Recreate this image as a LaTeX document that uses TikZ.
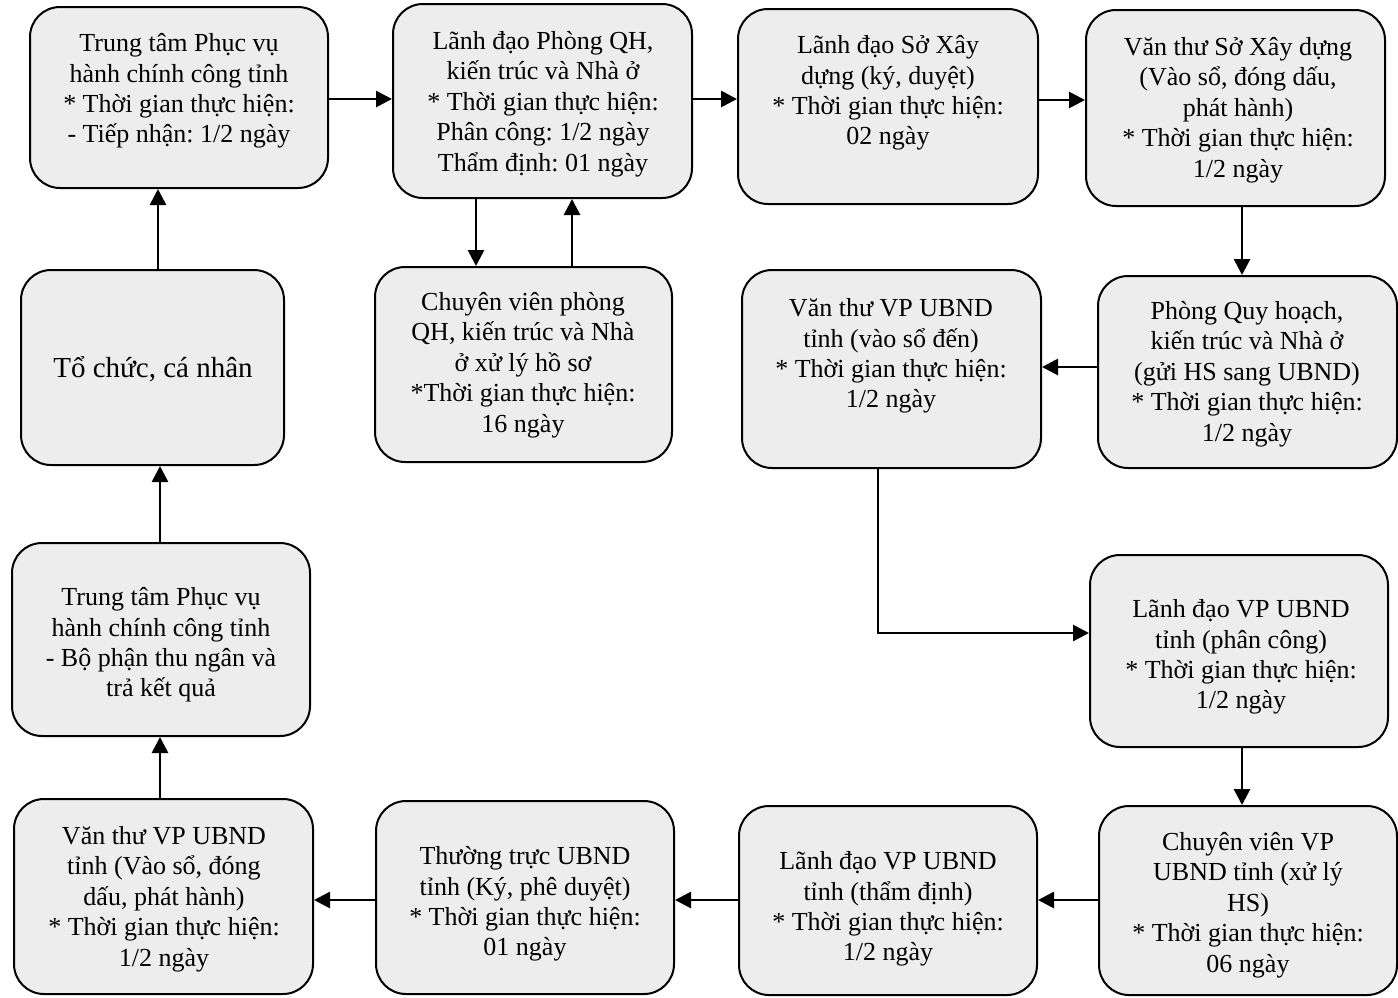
\documentclass[tikz,border=0pt]{standalone}
\usepackage{fontspec}
\setmainfont{Liberation Serif}
\usetikzlibrary{arrows.meta,fit}
\begin{document}
\frenchspacing
\begin{tikzpicture}[x=0.5pt,y=-0.5pt,
  box/.style={draw=black,line width=1pt,fill=boxgrey,rounded corners=15pt,inner sep=0pt},
  txt/.style={align=center,font=\fontsize{13}{15.2}\selectfont,inner sep=0pt,yshift=-1.5pt},
  arr/.style={line width=1.4pt,-{Triangle[length=8pt,width=8pt]}}]
\definecolor{boxgrey}{HTML}{EDEDED}
\useasboundingbox (0,0) rectangle (1398,997);
% boxes
\node[box,fit={(30,7) (328,188)}] (A) {};
\node[box,fit={(393,4) (692,198)}] (B) {};
\node[box,fit={(738,9) (1038,204)}] (C) {};
\node[box,fit={(1086,10) (1385,206)}] (D) {};
\node[box,fit={(375,267) (672,462)}] (E) {};
\node[box,fit={(21,270) (284,465)}] (F) {};
\node[box,fit={(742,270) (1041,468)}] (G) {};
\node[box,fit={(1098,276) (1397,468)}] (H) {};
\node[box,fit={(12,543) (310,736)}] (I) {};
\node[box,fit={(1090,555) (1388,747)}] (J) {};
\node[box,fit={(14,799) (313,994)}] (K) {};
\node[box,fit={(376,801) (674,994)}] (L) {};
\node[box,fit={(739,806) (1037,995)}] (M) {};
\node[box,fit={(1099,806) (1397,995)}] (N) {};
% texts
\node[txt] (tA) at (179,88) {Trung tâm Phục vụ\\hành chính công tỉnh\\* Thời gian thực hiện:\\- Tiếp nhận: 1/2 ngày};
\node[txt] (tB) at (543,101) {Lãnh đạo Phòng QH,\\kiến trúc và Nhà ở\\* Thời gian thực hiện:\\Phân công: 1/2 ngày\\Thẩm định: 01 ngày};
\node[txt] (tC) at (888,90) {Lãnh đạo Sở Xây\\dựng (ký, duyệt)\\* Thời gian thực hiện:\\02 ngày};
\node[txt] (tD) at (1238,107) {Văn thư Sở Xây dựng\\(Vào sổ, đóng dấu,\\phát hành)\\* Thời gian thực hiện:\\1/2 ngày};
\node[txt] (tE) at (523,362) {Chuyên viên phòng\\QH, kiến trúc và Nhà\\ở xử lý hồ sơ\\*Thời gian thực hiện:\\16 ngày};
\node[txt,font=\fontsize{14.5}{16}\selectfont] (tF) at (153,366) {Tổ chức, cá nhân};
\node[txt] (tG) at (891,353) {Văn thư VP UBND\\tỉnh (vào sổ đến)\\* Thời gian thực hiện:\\1/2 ngày};
\node[txt] (tH) at (1247,371) {Phòng Quy hoạch,\\kiến trúc và Nhà ở\\(gửi HS sang UBND)\\* Thời gian thực hiện:\\1/2 ngày};
\node[txt] (tI) at (161,642) {Trung tâm Phục vụ\\hành chính công tỉnh\\- Bộ phận thu ngân và\\trả kết quả};
\node[txt] (tJ) at (1241,654) {Lãnh đạo VP UBND\\tỉnh (phân công)\\* Thời gian thực hiện:\\1/2 ngày};
\node[txt] (tK) at (164,896) {Văn thư VP UBND\\tỉnh (Vào sổ, đóng\\dấu, phát hành)\\* Thời gian thực hiện:\\1/2 ngày};
\node[txt] (tL) at (525,901) {Thường trực UBND\\tỉnh (Ký, phê duyệt)\\* Thời gian thực hiện:\\01 ngày};
\node[txt] (tM) at (888,906) {Lãnh đạo VP UBND\\tỉnh (thẩm định)\\* Thời gian thực hiện:\\1/2 ngày};
\node[txt] (tN) at (1248,902) {Chuyên viên VP\\UBND tỉnh (xử lý\\HS)\\* Thời gian thực hiện:\\06 ngày};
% helper coordinates
\coordinate (x476) at (476,0);
\coordinate (x572) at (572,0);
\coordinate (x1242) at (1242,0);
\coordinate (x878) at (878,0);
\coordinate (x160) at (160,0);
\coordinate (x158) at (158,0);
\coordinate (y99) at (0,99);
\coordinate (y100) at (0,100);
\coordinate (y367) at (0,367);
\coordinate (y633) at (0,633);
\coordinate (y900) at (0,900);
% connectors
\draw[arr] (A.east |- y99) -- (B.west |- y99);
\draw[arr] (B.east |- y99) -- (C.west |- y99);
\draw[arr] (C.east |- y100) -- (D.west |- y100);
\draw[arr] (D.south -| x1242) -- (H.north -| x1242);
\draw[arr] (H.west |- y367) -- (G.east |- y367);
\draw[arr] (G.south -| x878) |- (J.west |- y633);
\draw[arr] (J.south -| x1242) -- (N.north -| x1242);
\draw[arr] (N.west |- y900) -- (M.east |- y900);
\draw[arr] (M.west |- y900) -- (L.east |- y900);
\draw[arr] (L.west |- y900) -- (K.east |- y900);
\draw[arr] (K.north -| x160) -- (I.south -| x160);
\draw[arr] (I.north -| x160) -- (F.south -| x160);
\draw[arr] (F.north -| x158) -- (A.south -| x158);
\draw[arr] (B.south -| x476) -- (E.north -| x476);
\draw[arr] (E.north -| x572) -- (B.south -| x572);
\end{tikzpicture}
\end{document}
